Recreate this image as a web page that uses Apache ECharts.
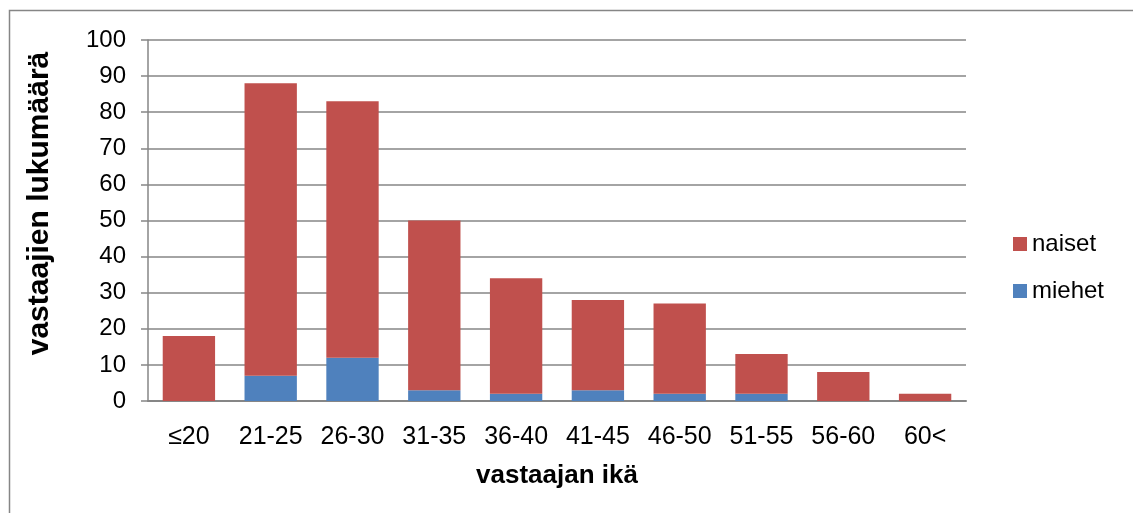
<!DOCTYPE html>
<html>
<head>
<meta charset="utf-8">
<script src="https://cdn.jsdelivr.net/npm/echarts@6/dist/echarts.min.js"></script>
<style>
  html, body { margin: 0; padding: 0; background: #fff; }
  #chart { width: 1133px; height: 513px; }
</style>
</head>
<body>
<div id="chart"></div>
<script>
  const ageGroups = ['≤20', '21-25', '26-30', '31-35', '36-40', '41-45', '46-50', '51-55', '56-60', '60<'];
  const men = [0, 7, 12, 3, 2, 3, 2, 2, 0, 0];
  const totals = [18, 88, 83, 50, 34, 28, 27, 13, 8, 2];
  const women = totals.map((t, i) => t - men[i]);

  const chart = echarts.init(document.getElementById('chart'));
  const font = 'Liberation Sans, Arial, sans-serif';

  chart.setOption({
    animation: false,
    color: ['#4F81BD', '#C0504D'],
    graphic: [{
      type: 'rect',
      shape: { x: 9.5, y: 10.5, width: 1300, height: 700 },
      style: { fill: 'none', stroke: '#868686', lineWidth: 1.5 },
      silent: true
    }],
    grid: { left: 148, right: 167, top: 40, bottom: 112 },
    legend: {
      orient: 'vertical',
      left: 1008,
      top: 227,
      itemWidth: 14,
      itemHeight: 14,
      itemGap: 23,
      icon: 'rect',
      data: ['naiset', 'miehet'],
      textStyle: { fontFamily: font, fontSize: 24, color: '#000' }
    },
    xAxis: {
      type: 'category',
      data: ageGroups,
      name: 'vastaajan ikä',
      nameLocation: 'middle',
      nameGap: 62,
      nameTextStyle: { fontFamily: font, fontSize: 26, fontWeight: 'bold', color: '#000' },
      axisLine: { lineStyle: { color: '#868686', width: 2 } },
      axisTick: { show: false },
      axisLabel: { interval: 0, hideOverlap: false, fontFamily: font, fontSize: 25, color: '#000', margin: 24 }
    },
    yAxis: {
      type: 'value',
      min: 0,
      max: 100,
      interval: 10,
      name: 'vastaajien lukumäärä',
      nameLocation: 'middle',
      nameGap: 93,
      nameRotate: 90,
      nameTextStyle: { fontFamily: font, fontSize: 30, fontWeight: 'bold', color: '#000', padding: [0, 0, 0, 34] },
      axisLine: { show: true, lineStyle: { color: '#868686', width: 1.5 } },
      axisTick: { show: true, length: 7, lineStyle: { color: '#868686', width: 1.5 } },
      splitLine: { lineStyle: { color: '#868686', width: 1.5 } },
      axisLabel: { fontFamily: font, fontSize: 24, color: '#000', margin: 22 }
    },
    series: [
      {
        name: 'miehet',
        type: 'bar',
        stack: 'total',
        barWidth: '64%',
        data: men
      },
      {
        name: 'naiset',
        type: 'bar',
        stack: 'total',
        barWidth: '64%',
        data: women
      }
    ]
  });
</script>
</body>
</html>
